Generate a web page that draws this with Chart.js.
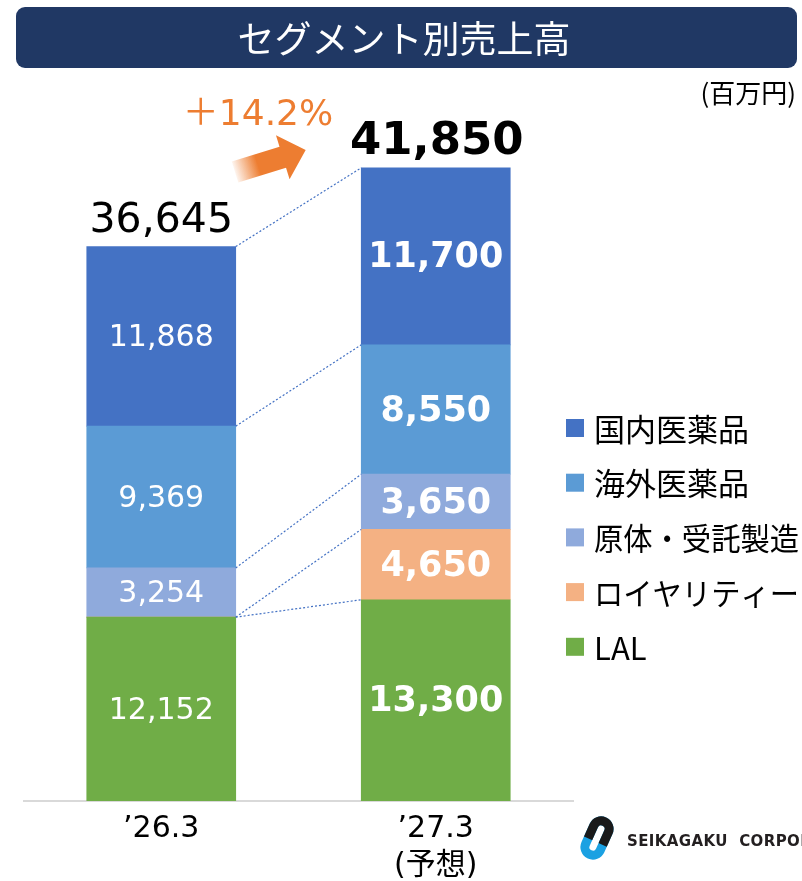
<!DOCTYPE html>
<html>
<head>
<meta charset="utf-8">
<script src="https://cdn.jsdelivr.net/npm/chart.js@4"></script>
<style>
  html, body { margin: 0; padding: 0; background: #fff; }
  #wrap { width: 802px; height: 881px; }
</style>
</head>
<body>
<div id="wrap"><canvas id="segChart" width="802" height="881"></canvas></div>
<script>
// periods
const periods = [['\u201926.3'], ['\u201927.3', '(予想)']];

// segment values (millions of yen), bottom of stack first
const lal       = [12152, 13300];
const royalty   = [0, 4650];
const api       = [3254, 3650];
const overseas  = [9369, 8550];
const domestic  = [11868, 11700];

const totals = [36645, 41850];
const growthText = '＋14.2%';

const segNames = ['LAL', 'ロイヤリティー', '原体・受託製造', '海外医薬品', '国内医薬品'];
const segColors = ['#70AD47', '#F4B183', '#8FAADC', '#5B9BD5', '#4472C4'];

const NUM_FONT = '"DejaVu Sans", "Noto Sans CJK JP", sans-serif';
const JP_FONT = '"Noto Sans CJK JP", "DejaVu Sans", sans-serif';

function fmt(v) { return v.toLocaleString('en-US'); }

const decorations = {
  id: 'decorations',
  beforeDraw(chart) {
    const ctx = chart.ctx;
    ctx.save();
    // title banner
    ctx.fillStyle = '#203864';
    ctx.beginPath();
    ctx.roundRect(16, 7, 781, 61, 9);
    ctx.fill();
    ctx.fillStyle = '#fff';
    ctx.font = '37px ' + JP_FONT;
    ctx.textAlign = 'center';
    ctx.textBaseline = 'middle';
    ctx.fillText('セグメント別売上高', 404, 39);

    // unit
    ctx.fillStyle = '#000';
    ctx.font = '26px ' + JP_FONT;
    ctx.textAlign = 'right';
    ctx.fillText('(百万円)', 796, 93);
    ctx.restore();
  },
  afterDatasetsDraw(chart) {
    const ctx = chart.ctx;
    const metas = chart.data.datasets.map((d, i) => chart.getDatasetMeta(i));
    ctx.save();

    // connector lines between the bars
    ctx.strokeStyle = '#4472C4';
    ctx.lineWidth = 1.2;
    ctx.setLineDash([2, 2]);
    metas.forEach(m => {
      const a = m.data[0], b = m.data[1];
      ctx.beginPath();
      ctx.moveTo(a.x + a.width / 2, a.y);
      ctx.lineTo(b.x - b.width / 2, b.y);
      ctx.stroke();
    });
    ctx.setLineDash([]);

    // segment labels
    ctx.textAlign = 'center';
    ctx.textBaseline = 'middle';
    ctx.fillStyle = '#fff';
    metas.forEach((m, i) => {
      const vals = chart.data.datasets[i].data;
      m.data.forEach((el, j) => {
        if (!vals[j]) return;
        ctx.font = j === 0 ? '30px ' + NUM_FONT : 'bold 35px ' + NUM_FONT;
        ctx.fillText(fmt(vals[j]), el.x, (el.y + el.base) / 2 + 2);
      });
    });

    // totals
    const top = metas[metas.length - 1];
    ctx.fillStyle = '#000';
    ctx.font = '41px ' + NUM_FONT;
    ctx.fillText(fmt(totals[0]), top.data[0].x, top.data[0].y - 25);
    ctx.font = 'bold 45px ' + NUM_FONT;
    ctx.fillText(fmt(totals[1]), top.data[1].x + 1, top.data[1].y - 25);

    // growth label
    ctx.fillStyle = '#ED7D31';
    ctx.font = '36px ' + NUM_FONT;
    ctx.fillText(growthText, 258, 116);

    // growth arrow
    ctx.save();
    ctx.translate(235, 172);
    ctx.rotate(Math.atan2(-13, 42));
    const g = ctx.createLinearGradient(0, 0, 24, 0);
    g.addColorStop(0, 'rgba(237,125,49,0.08)');
    g.addColorStop(1, 'rgba(237,125,49,1)');
    ctx.fillStyle = g;
    ctx.beginPath();
    ctx.moveTo(0, -11);
    ctx.lineTo(50, -11);
    ctx.lineTo(50, -23);
    ctx.lineTo(74, 0);
    ctx.lineTo(50, 23);
    ctx.lineTo(50, 11);
    ctx.lineTo(0, 11);
    ctx.closePath();
    ctx.fill();
    ctx.restore();

    // legend (top of stack first)
    ctx.textAlign = 'left';
    ctx.font = '31px ' + JP_FONT;
    for (let k = 0; k < segNames.length; k++) {
      const idx = segNames.length - 1 - k;
      const cy = 428 + k * 54.7;
      ctx.fillStyle = segColors[idx];
      ctx.fillRect(566, cy - 9, 18, 18);
      ctx.fillStyle = '#000';
      ctx.fillText(segNames[idx], 594, cy + 1, 205);
    }

    // company logo
    ctx.save();
    ctx.translate(597, 838);
    ctx.rotate(-1.15);
    ctx.lineWidth = 9;
    ctx.strokeStyle = '#1BA1E2';
    ctx.beginPath();
    ctx.roundRect(-18, -8, 36, 16, 8);
    ctx.stroke();
    ctx.beginPath();
    ctx.rect(-4, -16, 28, 32);
    ctx.clip();
    ctx.strokeStyle = '#1a1a1a';
    ctx.beginPath();
    ctx.roundRect(-18, -8, 36, 16, 8);
    ctx.stroke();
    ctx.restore();
    ctx.fillStyle = '#231F20';
    ctx.font = 'bold 15px ' + NUM_FONT;
    ctx.letterSpacing = '0.4px';
    ctx.textBaseline = 'middle';
    ctx.fillText('SEIKAGAKU  CORPORATION', 627, 842);
    ctx.restore();
  }
};

const datasetsSrc = [lal, royalty, api, overseas, domestic];

new Chart(document.getElementById('segChart'), {
  type: 'bar',
  data: {
    labels: periods,
    datasets: datasetsSrc.map((d, i) => ({
      label: segNames[i],
      data: d,
      backgroundColor: segColors[i],
      borderWidth: 0,
      barThickness: 149
    }))
  },
  options: {
    responsive: false,
    animation: false,
    layout: { padding: { left: 24, right: 229, top: 105, bottom: 0 } },
    plugins: {
      legend: { display: false },
      tooltip: { enabled: false },
      title: { display: false }
    },
    scales: {
      x: {
        stacked: true,
        grid: { display: false },
        border: { display: true, color: '#D9D9D9', width: 2 },
        ticks: {
          color: '#000',
          padding: 1,
          font: { family: NUM_FONT, size: 30, lineHeight: 1.25 }
        },
        afterFit(scale) { scale.height = 80; }
      },
      y: {
        stacked: true,
        display: false,
        min: 0,
        max: 46000
      }
    }
  },
  plugins: [decorations]
});
</script>
</body>
</html>
